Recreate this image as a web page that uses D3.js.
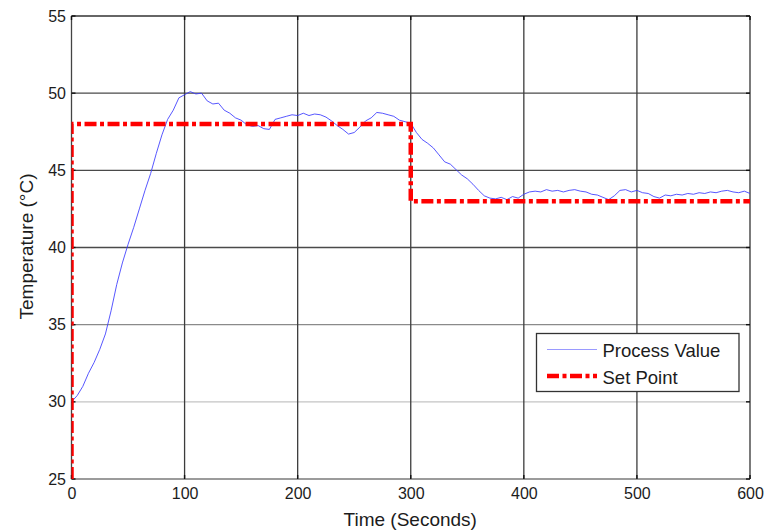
<!DOCTYPE html>
<html>
<head>
<meta charset="utf-8">
<script src="https://cdn.jsdelivr.net/npm/d3@7"></script>
<style>
  body { margin: 0; background: #fff; }
  text { font-family: "Liberation Sans", Arial, sans-serif; fill: #1c1c1c; }
</style>
</head>
<body>
<svg id="chart" width="768" height="532"></svg>
<script>
// Temperature controller response: measured process value vs. set point.
const sampleStep = 5; // seconds between process-value samples
const processValue = [
  30.0, 30.4, 31.0, 31.85, 32.55, 33.4, 34.4, 35.9, 37.6, 39.0,
  40.2, 41.3, 42.5, 43.7, 44.8, 46.1, 47.3, 48.3, 48.9, 49.7,
  49.9, 50.1, 49.95, 50.0, 49.5, 49.3, 49.35, 48.9, 48.7, 48.4,
  48.25, 47.95, 47.85, 47.9, 47.7, 47.65, 48.3, 48.4, 48.5, 48.6,
  48.55, 48.7, 48.55, 48.65, 48.6, 48.45, 48.2, 47.9, 47.65, 47.35,
  47.45, 47.8, 48.2, 48.4, 48.75, 48.7, 48.6, 48.5, 48.25, 48.15,
  48.05, 47.45, 47.0, 46.75, 46.45, 46.0, 45.55, 45.4, 45.05, 44.7,
  44.45, 44.1, 43.7, 43.35, 43.2, 43.15, 43.25, 43.1, 43.3, 43.2,
  43.45, 43.6, 43.65, 43.6, 43.75, 43.65, 43.7, 43.6, 43.7, 43.75,
  43.65, 43.6, 43.45, 43.4, 43.25, 43.1, 43.35, 43.7, 43.75, 43.6,
  43.7, 43.55, 43.5, 43.3, 43.2, 43.4, 43.35, 43.45, 43.4, 43.5,
  43.45, 43.55, 43.5, 43.6, 43.55, 43.65, 43.7, 43.6, 43.55, 43.65,
  43.5
];
const setPointTimes  = [0, 0, 300, 300, 600];
const setPointValues = [25, 48, 48, 43, 43];
const xTicks = [0, 100, 200, 300, 400, 500, 600];
const yTicks = [25, 30, 35, 40, 45, 50, 55];
const seriesNames = ["Process Value", "Set Point"];

const svg = d3.select("#chart");
const plotLeft = 71.5, plotRight = 750, plotTop = 16, plotBottom = 479;

const x = d3.scaleLinear().domain([0, 600]).range([plotLeft, plotRight]);
const y = d3.scaleLinear().domain([25, 55]).range([plotBottom, plotTop]);

// white plot area
svg.append("rect").attr("x", plotLeft).attr("y", plotTop)
  .attr("width", plotRight - plotLeft).attr("height", plotBottom - plotTop).attr("fill", "#fff");

// grid lines
const gridColor = v => v === 30 ? "#c4c4c4" : (v === 35 ? "#8a8a8a" : "#4a4a4a");
svg.append("g").selectAll("line").data(yTicks.filter(v => v !== 25 && v !== 55)).join("line")
  .attr("x1", plotLeft).attr("x2", plotRight)
  .attr("y1", d => y(d)).attr("y2", d => y(d))
  .attr("stroke", gridColor).attr("stroke-width", 1.3);
svg.append("g").selectAll("line").data(xTicks.filter(v => v !== 0 && v !== 600)).join("line")
  .attr("y1", plotTop).attr("y2", plotBottom)
  .attr("x1", d => x(d)).attr("x2", d => x(d))
  .attr("stroke", "#3c3c3c").attr("stroke-width", 1.3);

// axes box
svg.append("line").attr("x1", plotLeft).attr("x2", plotRight).attr("y1", plotTop).attr("y2", plotTop)
  .attr("stroke", "#333").attr("stroke-width", 1.3);
svg.append("line").attr("x1", plotRight).attr("x2", plotRight).attr("y1", plotTop).attr("y2", plotBottom)
  .attr("stroke", "#333").attr("stroke-width", 1.3);
svg.append("line").attr("x1", plotLeft).attr("x2", plotRight).attr("y1", plotBottom).attr("y2", plotBottom)
  .attr("stroke", "#7a7a7a").attr("stroke-width", 1.3);
svg.append("line").attr("x1", plotLeft).attr("x2", plotLeft).attr("y1", plotTop).attr("y2", plotBottom)
  .attr("stroke", "#444").attr("stroke-width", 1.3);

// inward tick marks on all four sides
const tickLen = 4;
const tk = svg.append("g").attr("stroke", "#111").attr("stroke-width", 1.4);
yTicks.forEach(v => {
  tk.append("line").attr("x1", plotLeft).attr("x2", plotLeft + tickLen).attr("y1", y(v)).attr("y2", y(v));
  tk.append("line").attr("x1", plotRight - tickLen).attr("x2", plotRight).attr("y1", y(v)).attr("y2", y(v));
});
xTicks.forEach(v => {
  tk.append("line").attr("y1", plotBottom).attr("y2", plotBottom - tickLen).attr("x1", x(v)).attr("x2", x(v));
  tk.append("line").attr("y1", plotTop).attr("y2", plotTop + tickLen).attr("x1", x(v)).attr("x2", x(v));
});

// tick labels through d3 axes (no axis lines/ticks of their own)
const xAxis = svg.append("g").attr("transform", `translate(0,${plotBottom})`)
  .call(d3.axisBottom(x).tickValues(xTicks).tickSize(0).tickPadding(9).tickFormat(d3.format("d")));
const yAxis = svg.append("g").attr("transform", `translate(${plotLeft},0)`)
  .call(d3.axisLeft(y).tickValues(yTicks).tickSize(0).tickPadding(5.5).tickFormat(d3.format("d")));
[xAxis, yAxis].forEach(a => {
  a.select(".domain").remove();
  a.attr("font-family", null).attr("font-size", null);
  a.selectAll("text").attr("font-size", 16).attr("fill", "#1c1c1c");
});

// clip data lines to the plot area
svg.append("clipPath").attr("id", "plotClip").append("rect")
  .attr("x", plotLeft).attr("y", plotTop - 3).attr("width", plotRight - plotLeft).attr("height", plotBottom - plotTop + 3);

const plot = svg.append("g").attr("clip-path", "url(#plotClip)");

const pvLine = d3.line().x((d, i) => x(i * sampleStep)).y(d => y(d));
plot.append("path").datum(processValue)
  .attr("d", pvLine).attr("fill", "none")
  .attr("stroke", "#3a3aff").attr("stroke-width", 1).attr("stroke-opacity", 0.85)
  .attr("stroke-linejoin", "round");

const spLine = d3.line().x(d => x(d[0])).y(d => y(d[1]));
plot.append("path").datum(setPointTimes.map((t, i) => [t, setPointValues[i]]))
  .attr("d", spLine).attr("fill", "none")
  .attr("stroke", "#ff0000").attr("stroke-width", 4.5)
  .attr("stroke-dasharray", "12,3.5,4,3.5");

// axis titles
svg.append("text").attr("x", (plotLeft + plotRight) / 2 - 0.5).attr("y", 526)
  .attr("text-anchor", "middle").attr("font-size", 19).text("Time (Seconds)");
svg.append("text").attr("transform", `translate(33,246.5) rotate(-90)`)
  .attr("text-anchor", "middle").attr("font-size", 19).text("Temperature (°C)");

// legend
const lg = svg.append("g");
lg.append("rect").attr("x", 536.5).attr("y", 333.5).attr("width", 202.5).attr("height", 58)
  .attr("fill", "#fff").attr("stroke", "#333").attr("stroke-width", 1.3);
lg.append("line").attr("x1", 547).attr("x2", 597).attr("y1", 349.5).attr("y2", 349.5)
  .attr("stroke", "#9a9aff").attr("stroke-width", 1.2);
lg.append("line").attr("x1", 547).attr("x2", 597).attr("y1", 376).attr("y2", 376)
  .attr("stroke", "#ff0000").attr("stroke-width", 4.5).attr("stroke-dasharray", "12,3.5,4,3.5");
lg.selectAll("text").data(seriesNames).join("text")
  .attr("x", 602.5).attr("y", (d, i) => 356.5 + i * 27)
  .attr("font-size", 18.5).text(d => d);
</script>
</body>
</html>
